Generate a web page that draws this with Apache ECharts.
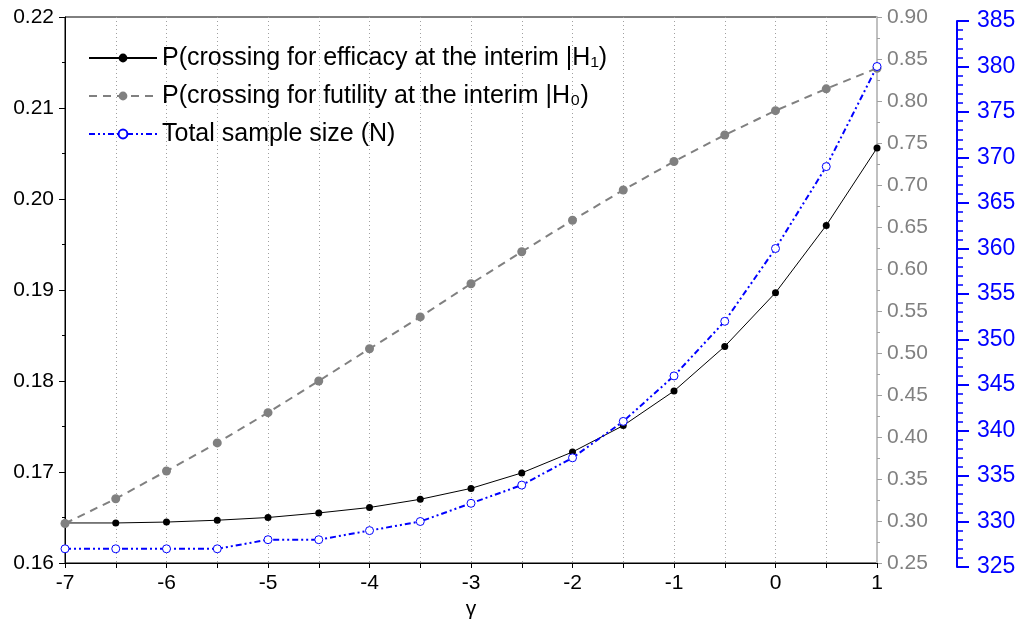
<!DOCTYPE html>
<html>
<head>
<meta charset="utf-8">
<style>
  html, body { margin: 0; padding: 0; background: #fff; }
  #chart { width: 1027px; height: 626px; }
</style>
<script src="https://cdn.jsdelivr.net/npm/echarts@6/dist/echarts.min.js"></script>
</head>
<body>
<div id="chart"></div>
<script>
var gammaValues = [-7, -6.5, -6, -5.5, -5, -4.5, -4, -3.5, -3, -2.5, -2, -1.5, -1, -0.5, 0, 0.5, 1];
var efficacyProb = [0.1644, 0.1644, 0.1645, 0.1647, 0.1650, 0.1655, 0.1661, 0.1670, 0.1682, 0.1699, 0.1722, 0.1751, 0.1789, 0.1838, 0.1897, 0.1971, 0.2056];
var futilityProb = [0.297, 0.3265, 0.3595, 0.393, 0.429, 0.4667, 0.505, 0.543, 0.5825, 0.6205, 0.658, 0.694, 0.728, 0.7595, 0.7885, 0.8145, 0.839];
var sampleSize = [327, 327, 327, 327, 328, 328, 329, 330, 332, 334, 337, 341, 346, 352, 360, 369, 380];
var seriesNames = [
    'P(crossing for efficacy at the interim |H\u2081)',
    'P(crossing for futility at the interim |H\u2080)',
    'Total sample size (N)'
];

function pairs(ys) {
    return gammaValues.map(function (x, i) { return [x, ys[i]]; });
}

var font = 'Liberation Sans, Arial, sans-serif';
var chart = echarts.init(document.getElementById('chart'));

var option = {
    animation: false,
    textStyle: { fontFamily: font },
    grid: [
        { left: 65, right: 150, top: 17, bottom: 63, show: true, borderColor: '#000', borderWidth: 1 },
        { left: 65, right: 150, top: 21, bottom: 59 }
    ],
    legend: {
        orient: 'vertical',
        left: 83,
        top: 40,
        itemWidth: 68,
        itemHeight: 11,
        itemGap: 12,
        textStyle: { fontSize: 25, lineHeight: 26, color: '#000', fontFamily: font },
        data: seriesNames
    },
    xAxis: [
        {
            type: 'value', gridIndex: 0, min: -7, max: 1, interval: 0.5,
            name: '\u03b3', nameLocation: 'middle', nameGap: 36,
            nameTextStyle: { fontSize: 21, color: '#000' },
            axisLine: { lineStyle: { color: '#000', width: 1 } },
            axisTick: { show: true, length: 5, lineStyle: { color: '#000' } },
            axisLabel: {
                fontSize: 21, color: '#000', margin: 10,
                formatter: function (v) { return Number.isInteger(v) ? String(v) : ''; }
            },
            splitLine: { show: true, lineStyle: { color: '#a0a0a0', type: [1, 3], width: 1 } }
        },
        {
            type: 'value', gridIndex: 1, min: -7, max: 1, show: false,
            splitLine: { show: false }
        }
    ],
    yAxis: [
        {
            type: 'value', gridIndex: 0, position: 'left', min: 0.16, max: 0.22, interval: 0.01,
            axisLine: { show: true, onZero: false, lineStyle: { color: '#000', width: 1 } },
            axisTick: { show: true, length: 6, lineStyle: { color: '#000' } },
            minorTick: { show: true, splitNumber: 2, length: 3, lineStyle: { color: '#000' } },
            axisLabel: { fontSize: 21, color: '#000', margin: 11, formatter: function (v) { return v.toFixed(2); } },
            splitLine: { show: false }
        },
        {
            type: 'value', gridIndex: 0, position: 'right', min: 0.25, max: 0.9, interval: 0.05,
            axisLine: { show: true, onZero: false, lineStyle: { color: '#c0c0c0', width: 2 } },
            axisTick: { show: true, length: 5, lineStyle: { color: '#a0a0a0' } },
            minorTick: { show: true, splitNumber: 2, length: 3, lineStyle: { color: '#a0a0a0' } },
            axisLabel: { fontSize: 21, color: '#808080', margin: 10, formatter: function (v) { return v.toFixed(2); } },
            splitLine: { show: false }
        },
        {
            type: 'value', gridIndex: 1, position: 'right', offset: 80, min: 325, max: 385, interval: 5,
            axisLine: { show: true, onZero: false, lineStyle: { color: '#0000ff', width: 2 } },
            axisTick: { show: true, length: 12, lineStyle: { color: '#0000ff', width: 2 } },
            minorTick: { show: true, splitNumber: 5, length: 6, lineStyle: { color: '#0000ff', width: 1.5 } },
            axisLabel: { fontSize: 23, color: '#0000ff', margin: 20 },
            splitLine: { show: false }
        }
    ],
    series: [
        {
            name: seriesNames[0], type: 'line', xAxisIndex: 0, yAxisIndex: 0,
            data: pairs(efficacyProb),
            symbol: 'circle', symbolSize: 7,
            itemStyle: { color: '#000' },
            lineStyle: { color: '#000', width: 1 }
        },
        {
            name: seriesNames[1], type: 'line', xAxisIndex: 0, yAxisIndex: 1,
            data: pairs(futilityProb),
            symbol: 'circle', symbolSize: 9,
            itemStyle: { color: '#808080' },
            lineStyle: { color: '#808080', width: 2, type: [8, 6] }
        },
        {
            name: seriesNames[2], type: 'line', xAxisIndex: 1, yAxisIndex: 2,
            data: pairs(sampleSize),
            symbol: 'circle', symbolSize: 8,
            itemStyle: { color: '#fff', borderColor: '#0000ff', borderWidth: 1 },
            lineStyle: { color: '#0000ff', width: 2, type: [6, 3, 2, 3, 2, 3] }
        }
    ]
};
chart.setOption(option);
</script>
</body>
</html>
